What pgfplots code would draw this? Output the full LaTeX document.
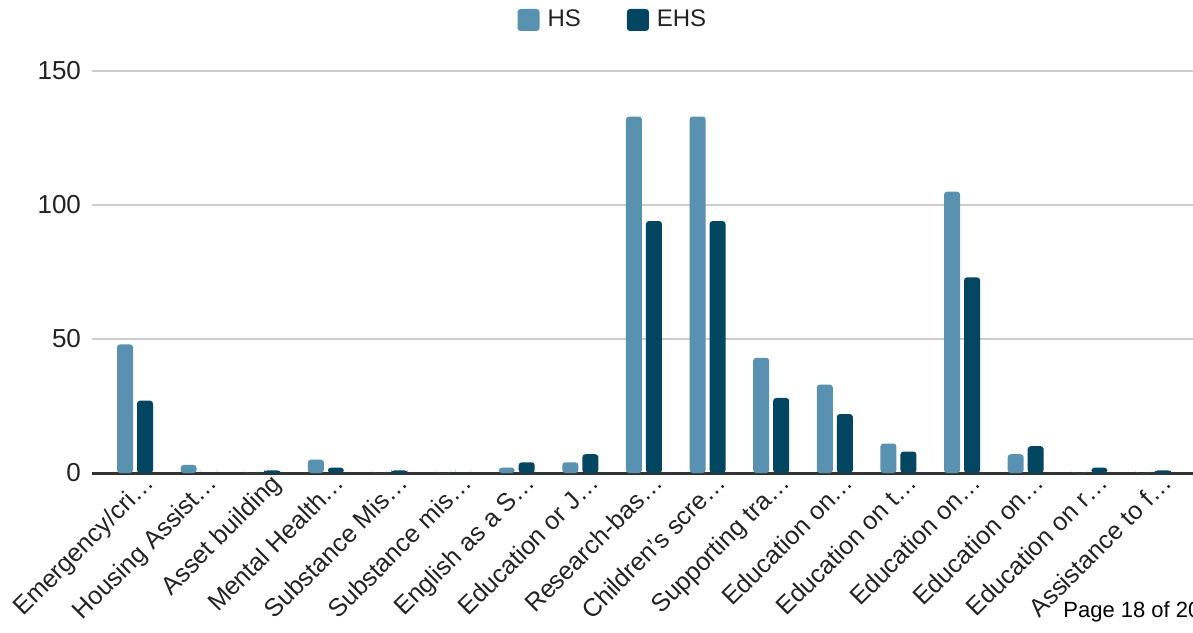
\documentclass[border=0pt]{standalone}
\usepackage{pgfplots}
\pgfplotsset{compat=1.18}
\usepackage{fontspec}
\setmainfont{Liberation Sans}

\definecolor{hscol}{RGB}{89,145,176}
\definecolor{ehscol}{RGB}{3,70,98}
\definecolor{gridcol}{RGB}{204,204,204}
\definecolor{txtcol}{RGB}{34,34,34}

\pgfplotstableread{
idx HS  EHS
0   48  27
1   3   0
2   0   1
3   5   2
4   0   1
5   0   0
6   2   4
7   4   7
8   133 94
9   133 94
10  43  28
11  33  22
12  11  8
13  105 73
14  7   10
15  0   2
16  0   1
}\services

\pgfplotsset{
  roundbar legend/.style={
    legend image code/.code={
      \fill[##1, rounded corners=1.5pt] (0pt,-5.5pt) rectangle (11pt,5.5pt);
    }
  }
}

\begin{document}
\begin{tikzpicture}
\begin{axis}[
  scale only axis,
  width=550.5pt, height=201pt,
  ymin=0, ymax=150,
  xmin=-0.676, xmax=16.63,
  ybar=2pt, bar width=8pt,
  axis line style={draw=none},
  major tick length=0pt,
  ytick={50,100,150},
  extra y ticks={0},
  extra y tick style={grid style={draw=black!80, line width=1.5pt}},
  ymajorgrids,
  grid style={draw=gridcol, line width=1pt},
  xtick=data,
  xticklabels={Emergency/cri…, Housing Assist…, Asset building, Mental Health…,
    Substance Mis…, Substance mis…, English as a S…, Education or J…,
    Research-bas…, Children's scre…, Supporting tra…, Education on…,
    Education on t…, Education on…, Education on…, Education on r…,
    Assistance to f…},
  xticklabel style={rotate=45, anchor=north east, font=\fontsize{12.6}{14}\selectfont,
    text=txtcol, inner sep=1pt, xshift=4pt, yshift=-1pt},
  yticklabel style={font=\fontsize{13}{15}\selectfont, text=txtcol, xshift=-2pt},
  /pgf/number format/assume math mode=true,
  legend columns=2,
  legend style={draw=none, fill=none, at={(0.474,1)}, anchor=center,
    yshift=25.5pt, font=\fontsize{12}{14}\selectfont, text=txtcol,
    /tikz/every odd column/.append style={column sep=2pt},
    /tikz/every even column/.append style={column sep=21pt}},
  roundbar legend,
]
\addplot[fill=hscol, draw=none, rounded corners=1.5pt] table[x=idx, y=HS] {\services};
\addplot[fill=ehscol, draw=none, rounded corners=1.5pt] table[x=idx, y=EHS] {\services};
\legend{HS, EHS}
\end{axis}
\node[anchor=base west, font=\fontsize{11}{13}\selectfont, text=black, inner sep=0pt]
  at (485.5pt,-72pt) {Page 18 of 20};
\pgfresetboundingbox
\useasboundingbox (-46pt,-79.5pt) rectangle (550.5pt,236.5pt);
\end{tikzpicture}
\end{document}
